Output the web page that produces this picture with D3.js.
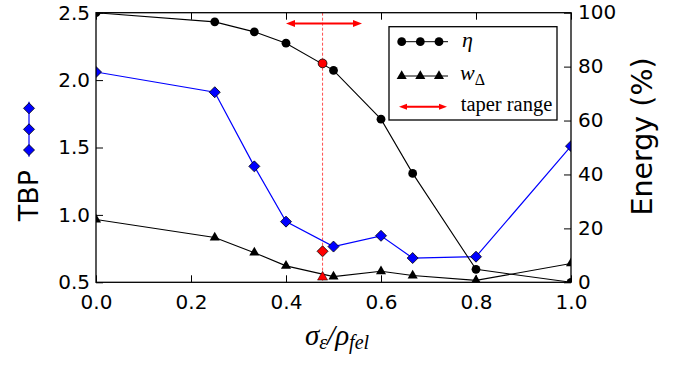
<!DOCTYPE html>
<html><head><meta charset="utf-8">
<script src="https://cdn.jsdelivr.net/npm/d3@7"></script>
<style>body{margin:0;background:#fff}svg{display:block}</style>
</head><body><svg id="c" width="685" height="365"></svg>
<script>
const xs = [0, 0.25, 1/3, 0.4, 0.5, 0.6, 2/3, 0.8, 1.0];
const tbp = [2.06, 1.91, 1.36, 0.95, 0.765, 0.845, 0.68, 0.69, 1.51];
const eta = [100, 96.6, 92.9, 88.7, 78.6, 60.5, 40.4, 4.8, 0];
const wdelta = [23.3, 16.6, 11.0, 6.1, 2.1, 4.1, 2.5, 0.7, 7.0];
const taperX = 0.477;
const taperTbp = 0.73, taperEta = 81.2, taperW = 1.9;
const taperRange = [0.4, 0.56];
const taperArrowTbp = 2.42;
const xTicks = [0, 0.2, 0.4, 0.6, 0.8, 1.0];
const yLeftTicks = [0.5, 1.0, 1.5, 2.0, 2.5];
const yRightTicks = [0, 20, 40, 60, 80, 100];

const svg = d3.select("#c");
const L = 96, R = 571, T = 12.7, B = 282.3;
const x = d3.scaleLinear().domain([0, 1]).range([L, R]);
const yl = d3.scaleLinear().domain([0.5, 2.5]).range([B, T]);
const yr = d3.scaleLinear().domain([0, 100]).range([B, T]);

svg.append("defs").append("clipPath").attr("id", "clip")
  .append("rect").attr("x", L).attr("y", T).attr("width", R - L).attr("height", B - T);

const sans = "'DejaVu Sans', sans-serif";
const serif = "'Liberation Serif', 'Times New Roman', serif";

function styleAxis(g) {
  g.select(".domain").remove();
  g.selectAll(".tick line").attr("stroke", "#000").attr("stroke-width", 1);
  g.selectAll("text").attr("font-family", sans).attr("font-size", 20).attr("fill", "#000");
}
svg.append("g").attr("transform", `translate(0,${B})`)
  .call(d3.axisBottom(x).tickValues(xTicks).tickSize(-7).tickSizeOuter(0).tickPadding(13).tickFormat(d3.format(".1f")))
  .call(styleAxis);
svg.append("g").attr("transform", `translate(0,${T})`)
  .call(d3.axisTop(x).tickValues(xTicks).tickSize(-7).tickSizeOuter(0).tickFormat(""))
  .call(styleAxis);
svg.append("g").attr("transform", `translate(${L},0)`)
  .call(d3.axisLeft(yl).tickValues(yLeftTicks).tickSize(-7).tickSizeOuter(0).tickPadding(6).tickFormat(d3.format(".1f")))
  .call(styleAxis);
svg.append("g").attr("transform", `translate(${R},0)`)
  .call(d3.axisRight(yr).tickValues(yRightTicks).tickSize(-7).tickSizeOuter(0).tickPadding(7).tickFormat(d3.format("d")))
  .call(styleAxis)
  .call(g => g.selectAll("text").attr("dy", "0.3em"));

const plot = svg.append("g").attr("clip-path", "url(#clip)");

// dashed taper line
plot.append("line").attr("x1", x(taperX)).attr("x2", x(taperX)).attr("y1", T).attr("y2", B)
  .attr("stroke", "#ff4d4d").attr("stroke-width", 1).attr("stroke-dasharray", "3,2");

const tri = d3.symbol().type(d3.symbolTriangle).size(44);
const dia = (cx, cy, r) => `M${cx},${cy - r}L${cx + r},${cy}L${cx},${cy + r}L${cx - r},${cy}Z`;

// TBP blue
plot.append("path").datum(xs.map((d, i) => [d, tbp[i]]))
  .attr("d", d3.line().x(d => x(d[0])).y(d => yl(d[1])))
  .attr("fill", "none").attr("stroke", "#0000ff").attr("stroke-width", 1.2);
plot.selectAll(".dia").data(xs.map((d, i) => [d, tbp[i]])).join("path")
  .attr("d", d => dia(x(d[0]), yl(d[1]), 5.5)).attr("fill", "#0000ff").attr("stroke", "#000").attr("stroke-width", 0.8);

// eta
plot.append("path").datum(xs.map((d, i) => [d, eta[i]]))
  .attr("d", d3.line().x(d => x(d[0])).y(d => yr(d[1])))
  .attr("fill", "none").attr("stroke", "#000").attr("stroke-width", 1.1);
plot.selectAll(".circ").data(xs.map((d, i) => [d, eta[i]])).join("circle")
  .attr("cx", d => x(d[0])).attr("cy", d => yr(d[1])).attr("r", 4.4).attr("fill", "#000");

// w delta
plot.append("path").datum(xs.map((d, i) => [d, wdelta[i]]))
  .attr("d", d3.line().x(d => x(d[0])).y(d => yr(d[1])))
  .attr("fill", "none").attr("stroke", "#000").attr("stroke-width", 1.1);
plot.selectAll(".tri").data(xs.map((d, i) => [d, wdelta[i]])).join("path")
  .attr("transform", d => `translate(${x(d[0])},${yr(d[1])})`).attr("d", tri).attr("fill", "#000");

// taper markers
plot.append("circle").attr("cx", x(taperX)).attr("cy", yr(taperEta)).attr("r", 4.4)
  .attr("fill", "#ff0000").attr("stroke", "#000").attr("stroke-width", 0.8);
plot.append("path").attr("d", dia(x(taperX), yl(taperTbp), 5.5))
  .attr("fill", "#ff0000").attr("stroke", "#000").attr("stroke-width", 0.8);
plot.append("path").attr("transform", `translate(${x(taperX)},${yr(taperW)})`).attr("d", tri)
  .attr("fill", "#ff0000").attr("stroke", "#000").attr("stroke-width", 0.5);

// arrow
function dblArrow(g, x1, x2, y, head, hw) {
  g.append("line").attr("x1", x1 + head * 0.6).attr("x2", x2 - head * 0.6).attr("y1", y).attr("y2", y)
    .attr("stroke", "#ff0000").attr("stroke-width", 2);
  g.append("path").attr("d", `M${x1},${y}L${x1 + head},${y - hw}L${x1 + head},${y + hw}Z`).attr("fill", "#ff0000");
  g.append("path").attr("d", `M${x2},${y}L${x2 - head},${y - hw}L${x2 - head},${y + hw}Z`).attr("fill", "#ff0000");
}
dblArrow(svg, x(taperRange[0]), x(taperRange[1]), yl(taperArrowTbp), 9, 3.5);

// frame
svg.append("rect").attr("x", L).attr("y", T).attr("width", R - L).attr("height", B - T)
  .attr("fill", "none").attr("stroke", "#000").attr("stroke-width", 1.3);

// legend
const lg = svg.append("g");
lg.append("rect").attr("x", 389).attr("y", 26.7).attr("width", 168).attr("height", 93.3)
  .attr("fill", "#fff").attr("stroke", "#000").attr("stroke-width", 1.3);
const mk = [401.7, 420.3, 439];
lg.append("line").attr("x1", 401.7).attr("x2", 448).attr("y1", 41.7).attr("y2", 41.7).attr("stroke", "#000");
mk.forEach(m => lg.append("circle").attr("cx", m).attr("cy", 41.7).attr("r", 4.4).attr("fill", "#000"));
lg.append("line").attr("x1", 401.7).attr("x2", 448).attr("y1", 76).attr("y2", 76).attr("stroke", "#000");
mk.forEach(m => lg.append("path").attr("transform", `translate(${m},76)`).attr("d", tri).attr("fill", "#000"));
dblArrow(lg, 399, 447, 106.7, 8, 3);
lg.append("text").attr("x", 462).attr("y", 47).attr("font-family", serif).attr("font-style", "italic")
  .attr("font-size", 22).text("η");
const wt = lg.append("text").attr("x", 460).attr("y", 80).attr("font-family", serif).attr("font-size", 22);
wt.append("tspan").attr("font-style", "italic").text("w");
wt.append("tspan").attr("font-size", 16).attr("dy", 5).text("Δ");
lg.append("text").attr("x", 460.7).attr("y", 111).attr("font-family", serif).attr("font-size", 20.5).text("taper range");

// axis labels
const xl = svg.append("text").attr("x", 337).attr("y", 345).attr("text-anchor", "middle")
  .attr("font-family", serif).attr("font-style", "italic").attr("font-size", 29);
xl.append("tspan").text("σ");
xl.append("tspan").attr("font-size", 20).attr("dy", 4).text("ε");
xl.append("tspan").attr("dy", -4).text("/ρ");
xl.append("tspan").attr("font-size", 20).attr("dy", 4).text("fel");

svg.append("text").attr("transform", "translate(38,195.5) rotate(-90)").attr("text-anchor", "middle")
  .attr("font-family", sans).attr("font-size", 27).text("TBP");
svg.append("line").attr("x1", 29).attr("x2", 29).attr("y1", 101.7).attr("y2", 156.7)
  .attr("stroke", "#0000ff").attr("stroke-width", 1.2);
[108.3, 129.3, 150].forEach(yy => svg.append("path").attr("d", dia(29, yy, 5.5))
  .attr("fill", "#0000ff").attr("stroke", "#000").attr("stroke-width", 0.8));

svg.append("text").attr("transform", "translate(652,136.5) rotate(-90)").attr("text-anchor", "middle")
  .attr("font-family", sans).attr("font-size", 28.5).text("Energy (%)");
</script></body></html>
